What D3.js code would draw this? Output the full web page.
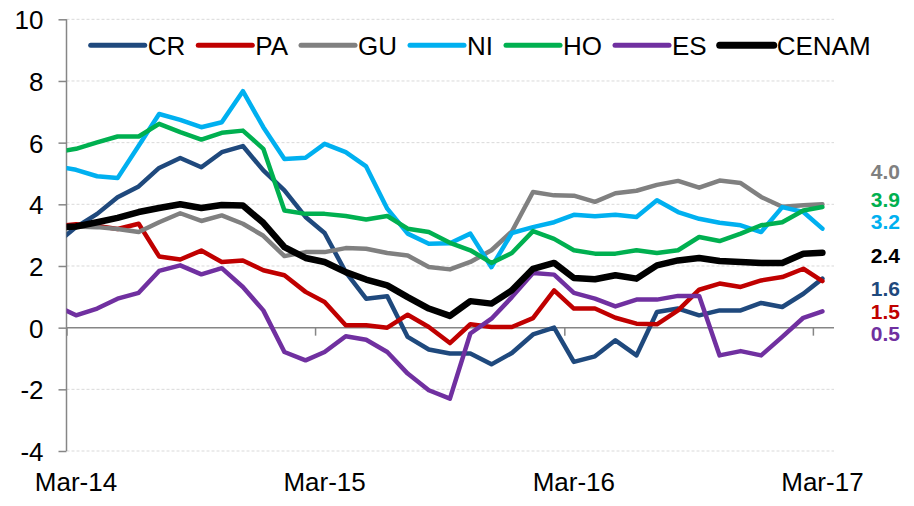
<!DOCTYPE html>
<html>
<head>
<meta charset="utf-8">
<script src="https://cdn.jsdelivr.net/npm/d3@7"></script>
<style>
  body { margin: 0; background: #fff; }
  svg { display: block; font-family: Arial, "Liberation Sans", sans-serif; }
</style>
</head>
<body>
<svg id="chart" width="914" height="506"></svg>
<script>
// Monthly series, Feb-14 (clipped at the axis) to Mar-17
var seriesNames = ['CR', 'PA', 'GU', 'NI', 'HO', 'ES', 'CENAM'];
var seriesColors = ['#1F497D', '#C00000', '#808080', '#00B0F0', '#00B050', '#7030A0', '#000000'];

var CR = [2.75, 3.26, 3.69, 4.23, 4.58, 5.18, 5.5, 5.2, 5.69, 5.89, 5.1,
  4.45, 3.59, 3.07, 1.8, 0.94, 1.02, -0.3, -0.71, -0.84, -0.84, -1.19, -0.82,
  -0.22, 0.0, -1.11, -0.93, -0.41, -0.9, 0.51, 0.62, 0.4, 0.56, 0.56, 0.8,
  0.67, 1.1, 1.59];
var PA = [3.3, 3.35, 3.3, 3.2, 3.37, 2.31, 2.21, 2.5, 2.13, 2.18, 1.86,
  1.7, 1.16, 0.83, 0.08, 0.08, 0.0, 0.42, 0.02, -0.5, 0.11, 0.02, 0.02,
  0.31, 1.21, 0.62, 0.62, 0.32, 0.13, 0.11, 0.56, 1.23, 1.43, 1.32, 1.53,
  1.64, 1.91, 1.51];
var GU = [3.3, 3.28, 3.26, 3.2, 3.1, 3.42, 3.71, 3.46, 3.64, 3.37, 2.98,
  2.32, 2.45, 2.45, 2.58, 2.56, 2.42, 2.34, 1.97, 1.89, 2.13, 2.51, 3.12,
  4.4, 4.29, 4.28, 4.08, 4.36, 4.44, 4.63, 4.76, 4.54, 4.77, 4.69, 4.24,
  3.92, 3.97, 4.0];
var NI = [5.23, 5.12, 4.91, 4.85, 5.9, 6.93, 6.74, 6.5, 6.66, 7.67, 6.5,
  5.47, 5.51, 5.96, 5.69, 5.23, 3.86, 3.05, 2.72, 2.74, 3.05, 1.96, 3.07,
  3.26, 3.42, 3.66, 3.61, 3.66, 3.59, 4.13, 3.75, 3.53, 3.4, 3.32, 3.1,
  3.91, 3.75, 3.21];
var HO = [5.7, 5.8, 6.01, 6.2, 6.2, 6.61, 6.34, 6.1, 6.32, 6.39, 5.8,
  3.8, 3.69, 3.69, 3.62, 3.51, 3.62, 3.21, 3.1, 2.75, 2.51, 2.1, 2.42,
  3.13, 2.88, 2.51, 2.4, 2.4, 2.51, 2.42, 2.51, 2.94, 2.81, 3.05, 3.32,
  3.42, 3.8, 3.91];
var ES = [0.7, 0.4, 0.62, 0.94, 1.13, 1.84, 2.02, 1.73, 1.93, 1.32, 0.56,
  -0.79, -1.06, -0.79, -0.28, -0.39, -0.79, -1.49, -2.03, -2.3, -0.19, 0.29, 0.99,
  1.77, 1.72, 1.13, 0.94, 0.69, 0.91, 0.91, 1.03, 1.03, -0.9, -0.76, -0.9,
  -0.3, 0.32, 0.53];
var CENAM = [3.25, 3.28, 3.42, 3.56, 3.75, 3.88, 4.0, 3.88, 3.98, 3.96, 3.4,
  2.61, 2.26, 2.13, 1.8, 1.56, 1.37, 0.99, 0.62, 0.38, 0.86, 0.78, 1.21,
  1.91, 2.1, 1.61, 1.57, 1.7, 1.59, 2.02, 2.18, 2.26, 2.16, 2.13, 2.1,
  2.1, 2.4, 2.43];

var yTicks = [-4, -2, 0, 2, 4, 6, 8, 10];
var xTickLabels = ['Mar-14', 'Mar-15', 'Mar-16', 'Mar-17'];
var xTickYears = [2014, 2015, 2016, 2017];

// where the end-of-series value labels sit (in axis units), stacked like the original
var endLabelOrder = ['GU', 'HO', 'NI', 'CENAM', 'CR', 'PA', 'ES'];
var endLabelPos = [5.08, 4.14, 3.44, 2.34, 1.26, 0.54, -0.2];

var values = [CR, PA, GU, NI, HO, ES, CENAM];

// one date per value, mid-month
var dates = d3.timeMonth.range(new Date(2014, 1, 1), new Date(2017, 3, 1))
  .map(function(d) { return new Date(d.getFullYear(), d.getMonth(), 15); });

var svg = d3.select('#chart');
var plotLeft = 66.5, plotRight = 834, plotTop = 19.3, plotBottom = 451;
var fontSize = 26;

var x = d3.scaleTime()
  .domain([new Date(2014, 2, 1), new Date(2017, 3, 1)])
  .range([plotLeft, plotRight]);
var y = d3.scaleLinear().domain([-4, 10]).range([plotBottom, plotTop]);

var axisColor = '#868686';

// Gridlines (dashed), skip zero which is the category axis
svg.append('g')
  .selectAll('line')
  .data(yTicks.filter(function(d) { return d !== 0; }))
  .enter().append('line')
  .attr('x1', plotLeft).attr('x2', plotRight)
  .attr('y1', function(d) { return y(d); })
  .attr('y2', function(d) { return y(d); })
  .style('stroke', '#d9d9d9')
  .style('stroke-width', 1)
  .style('stroke-dasharray', '3,2');

// Y axis (plain hyphen for negatives, like the original)
var yAxis = svg.append('g')
  .attr('transform', 'translate(' + plotLeft + ',0)')
  .call(d3.axisLeft(y).tickValues(yTicks).tickSize(8).tickPadding(15)
    .tickFormat(function(d) { return String(d); }));
yAxis.select('.domain').remove();
yAxis.selectAll('line').style('stroke', axisColor).style('stroke-width', 1.5);
yAxis.selectAll('text')
  .style('font-size', fontSize + 'px')
  .style('fill', '#000')
  .attr('dy', '0.36em');
svg.append('line')
  .attr('x1', plotLeft).attr('x2', plotLeft)
  .attr('y1', plotTop).attr('y2', plotBottom)
  .style('stroke', axisColor).style('stroke-width', 1.5);

// X axis at zero
var xAxis = svg.append('g')
  .attr('transform', 'translate(0,' + y(0) + ')')
  .call(d3.axisBottom(x)
    .tickValues(xTickYears.map(function(yr) { return new Date(yr, 2, 1); }))
    .tickSize(8).tickFormat(''));
xAxis.select('.domain').remove();
xAxis.selectAll('line').style('stroke', axisColor).style('stroke-width', 1.5);
svg.append('line')
  .attr('x1', plotLeft).attr('x2', plotRight)
  .attr('y1', y(0)).attr('y2', y(0))
  .style('stroke', axisColor).style('stroke-width', 1.5);

// Category labels at the bottom, centred on the March data points
svg.append('g')
  .selectAll('text')
  .data(xTickLabels)
  .enter().append('text')
  .attr('x', function(d, i) { return x(new Date(xTickYears[i], 2, 15)); })
  .attr('y', 491)
  .attr('text-anchor', 'middle')
  .style('font-size', fontSize + 'px')
  .text(function(d) { return d; });

// Clip to plot area
svg.append('clipPath').attr('id', 'plotClip')
  .append('rect')
  .attr('x', plotLeft).attr('y', 0)
  .attr('width', plotRight - plotLeft).attr('height', 506);

var line = d3.line()
  .x(function(d, i) { return x(dates[i]); })
  .y(function(d) { return y(d); });

svg.append('g')
  .attr('clip-path', 'url(#plotClip)')
  .selectAll('path')
  .data(values)
  .enter().append('path')
  .attr('d', line)
  .style('fill', 'none')
  .style('stroke', function(d, i) { return seriesColors[i]; })
  .style('stroke-width', function(d, i) { return seriesNames[i] === 'CENAM' ? 6.5 : 4.5; })
  .style('stroke-linejoin', 'round')
  .style('stroke-linecap', 'round');

// Legend
var legend = svg.append('g');
var lx = 90.7;
seriesNames.forEach(function(name, i) {
  var ly = 45.3;
  legend.append('line')
    .attr('x1', lx).attr('x2', lx + 54)
    .attr('y1', ly).attr('y2', ly)
    .style('stroke', seriesColors[i])
    .style('stroke-width', name === 'CENAM' ? 7 : 5)
    .style('stroke-linecap', 'round');
  var t = legend.append('text')
    .attr('x', lx + 57)
    .attr('y', ly + 9.3)
    .style('font-size', fontSize + 'px')
    .text(name);
  lx = lx + 57 + t.node().getComputedTextLength() + 13;
});

// End-of-series value labels
svg.append('g')
  .selectAll('text')
  .data(endLabelOrder)
  .enter().append('text')
  .attr('x', 900)
  .attr('y', function(d, i) { return y(endLabelPos[i]) + 7.5; })
  .attr('text-anchor', 'end')
  .style('font-size', '21px')
  .style('font-weight', 'bold')
  .style('fill', function(d) { return seriesColors[seriesNames.indexOf(d)]; })
  .text(function(d) {
    var v = values[seriesNames.indexOf(d)];
    return v[v.length - 1].toFixed(1);
  });
</script>
</body>
</html>
